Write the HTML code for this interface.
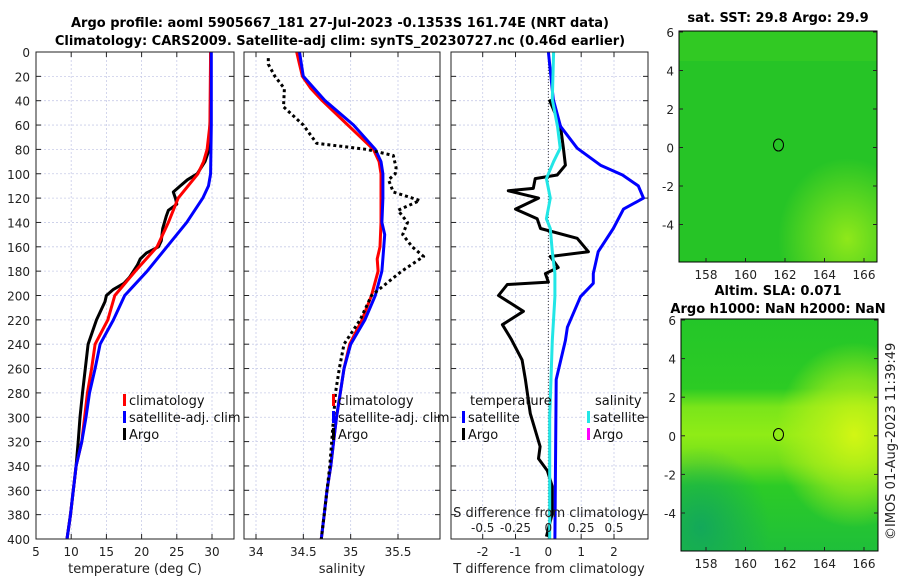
<!DOCTYPE html>
<html><head><meta charset="utf-8"><style>
body{margin:0;background:#fff;}
svg{display:block;font-family:"DejaVu Sans","Liberation Sans",sans-serif;}
.t{font-size:13px;fill:#222;}
.b{font-size:13px;font-weight:bold;fill:#000;}
.tk{font-size:12px;fill:#222;}
.lg{font-size:13px;fill:#111;}
</style></head><body>
<svg id="fig" width="900" height="580" viewBox="0 0 900 580" xmlns="http://www.w3.org/2000/svg">
<defs>
<radialGradient id="g1" cx="0.85" cy="0.9" r="0.35"><stop offset="0" stop-color="#8fe81a"/><stop offset="1" stop-color="#8fe81a" stop-opacity="0"/></radialGradient>
<linearGradient id="band" x1="0" y1="0" x2="0" y2="1">
<stop offset="0" stop-color="#24c629"/><stop offset="0.3" stop-color="#2ccb24"/><stop offset="0.38" stop-color="#7ae51a"/><stop offset="0.5" stop-color="#8fec16"/><stop offset="0.62" stop-color="#6edd1c"/><stop offset="0.72" stop-color="#2ccb26"/><stop offset="1" stop-color="#1fbf3a"/></linearGradient>
<radialGradient id="g2" cx="0.88" cy="0.5" r="0.4"><stop offset="0" stop-color="#d2f614"/><stop offset="0.6" stop-color="#b6f018" stop-opacity="0.6"/><stop offset="1" stop-color="#b6f018" stop-opacity="0"/></radialGradient>
<radialGradient id="g3" cx="0.1" cy="0.9" r="0.35"><stop offset="0" stop-color="#13a85a"/><stop offset="1" stop-color="#13a85a" stop-opacity="0"/></radialGradient>
</defs>
<g id="titles">
<text class="b" x="340" y="27" text-anchor="middle">Argo profile: aoml 5905667_181 27-Jul-2023 -0.1353S 161.74E (NRT data)</text>
<text class="b" x="340" y="45" text-anchor="middle">Climatology: CARS2009. Satellite-adj clim: synTS_20230727.nc (0.46d earlier)</text>
<text class="b" x="778" y="22" text-anchor="middle">sat. SST: 29.8 Argo: 29.9</text>
<text class="b" x="778" y="295" text-anchor="middle">Altim. SLA: 0.071</text>
<text class="b" x="778" y="313" text-anchor="middle">Argo h1000: NaN h2000: NaN</text>
<text class="t" transform="translate(895,540) rotate(-90)" x="0" y="0">©IMOS 01-Aug-2023 11:39:49</text>
</g>
<g id="maps">
<rect x="679" y="31" width="198" height="231" fill="#26c426"/>
<rect x="679" y="31" width="198" height="231" fill="url(#g1)"/>
<rect x="679" y="31" width="198" height="30" fill="#4dd41f" opacity="0.3"/>
<ellipse cx="778.5" cy="145" rx="5" ry="6" fill="none" stroke="#000"/>
<rect x="679" y="31" width="198" height="231" fill="none" stroke="#000"/>
<rect x="681" y="319" width="197" height="232" fill="url(#band)"/>
<rect x="681" y="319" width="197" height="232" fill="url(#g2)"/>
<rect x="681" y="319" width="197" height="232" fill="url(#g3)"/>
<ellipse cx="778.5" cy="434.5" rx="5" ry="6" fill="none" stroke="#000"/>
<rect x="681" y="319" width="197" height="232" fill="none" stroke="#000"/>
</g>
<g id="plots"></g>
</svg>
<script>
const depthTicks=[0,20,40,60,80,100,120,140,160,180,200,220,240,260,280,300,320,340,360,380,400];
const tempTicks=[5,10,15,20,25,30];
const salTicks=[34,34.5,35,35.5];
const salTickLabels=["34","34.5","35","35.5"];
const tdTicks=[-2,-1,0,1,2];
const sdTicks=[-0.5,-0.25,0,0.25,0.5];
const sdTickLabels=["-0.5","-0.25","0","0.25","0.5"];
const latTicks=[-4,-2,0,2,4,6];
const lonTicks=[158,160,162,164,166];

const climTD=[0,60,80,90,100,120,140,160,180,200,220,240,260,280,300,320,340,360,380,400];
const climT=[29.8,29.7,29.3,28.8,28,25.2,23.8,22.2,19.1,16.2,15.2,13.4,12.9,12.3,11.9,11.5,10.7,10.3,9.9,9.4];
const satTD=[0,60,100,110,120,140,160,180,200,220,240,260,280,300,320,340,360,380,400];
const satT=[29.9,29.9,29.8,29.5,28.7,26.4,23.6,20.8,17.6,16.0,14.1,13.4,12.6,12.1,11.5,10.7,10.3,9.9,9.4];
const argoTD=[0,40,80,90,100,105,110,115,120,125,130,135,145,155,160,165,170,175,185,190,195,200,205,220,240,260,280,300,320,340,360,380,400];
const argoT=[29.8,29.8,29.6,29,27.9,26.5,25.5,24.5,24.8,25,23.8,23.5,23,22.8,22.4,20.7,19.8,19.4,18.3,17.5,16,15,14.8,13.6,12.4,12.0,11.6,11.25,11.0,10.7,10.3,9.9,9.4];

const climSD=[0,10,20,30,40,60,80,90,100,120,140,160,170,180,200,220,240,260,280,300,320,340,360,380,400];
const climS=[34.43,34.46,34.49,34.58,34.7,34.97,35.24,35.3,35.32,35.32,35.32,35.31,35.28,35.29,35.22,35.12,34.99,34.93,34.89,34.85,34.82,34.79,34.75,34.72,34.69];
const satSD=[0,10,20,40,60,80,90,100,120,140,150,160,180,200,220,240,260,280,300,320,340,360,380,400];
const satS=[34.46,34.48,34.5,34.73,35.03,35.26,35.32,35.34,35.34,35.33,35.36,35.35,35.33,35.26,35.15,35.0,34.93,34.89,34.85,34.82,34.79,34.75,34.72,34.69];
const argoSD=[5,10,20,30,45,60,75,80,85,95,100,105,115,122,130,140,150,160,168,180,190,200,220,240,260,280,300,320,340,360,380,400];
const argoS=[34.13,34.13,34.2,34.3,34.29,34.5,34.64,35.17,35.45,35.48,35.47,35.4,35.45,35.73,35.5,35.6,35.55,35.65,35.77,35.54,35.38,35.22,35.1,34.93,34.88,34.84,34.82,34.8,34.78,34.75,34.72,34.69];

const tdD=[39,61,79,93,101,104,112,114,120,129,137,145,153,164,168,177,182,189,191,200,213,224,236,253,269,297,324,334,344,357,379,398];
const tdArgo=[0.03,0.37,0.46,0.52,0.27,-0.4,-0.46,-1.22,-0.3,-1.0,-0.34,-0.24,0.88,1.22,0.06,0.3,-0.09,0,-1.25,-1.52,-0.76,-1.4,-1.13,-0.8,-0.7,-0.55,-0.25,-0.3,-0.03,0.12,0.12,-0.06];
const tdSatD=[0,39,61,79,93,101,110,120,129,145,164,182,190,201,226,237,269,400];
const tdSat=[0,0.15,0.37,0.88,1.59,2.26,2.74,2.9,2.29,1.98,1.52,1.37,1.37,0.98,0.58,0.52,0.24,0.2];
const sdD=[0,39,61,79,90,104,120,137,145,164,182,201,237,300,400];
const sdSat=[0.04,0.03,0.07,0.09,0.04,-0.015,0.015,-0.015,0.015,0.03,0.05,0.05,0.03,0.01,0.01];

const NS='http://www.w3.org/2000/svg';
const G=document.getElementById('plots');
function mk(tag,attrs,parent){const e=document.createElementNS(NS,tag);for(const k in attrs)e.setAttribute(k,attrs[k]);(parent||G).appendChild(e);return e;}
const yTop=52,yBot=539;
function yD(d){return yTop+(d/400)*(yBot-yTop);}
function lin(d0,d1,p0,p1){return v=>p0+(v-d0)/(d1-d0)*(p1-p0);}
const xT=lin(5,30,36,212);
const xS=lin(34,35.5,256,398);
const xTD=lin(-2,2,482.7,614);
const xSD=v=>xTD(v*4);
const panels=[{x0:36,x1:234,name:'temperature-panel'},{x0:244,x1:440,name:'salinity-panel'},{x0:451,x1:648,name:'difference-panel'}];

function grid(p,xs,xf){
  const g=mk('g',{});
  
  
  xs.forEach(v=>{const x=xf(v);mk('line',{x1:x,x2:x,y1:yTop,y2:yBot,stroke:'#c8cce8','stroke-width':0.8,'stroke-dasharray':'2,2'},g);});
  depthTicks.forEach(d=>{const y=yD(d);mk('line',{x1:p.x0,x2:p.x1,y1:y,y2:y,stroke:'#c8cce8','stroke-width':0.8,'stroke-dasharray':'2,2'},g);
    mk('line',{x1:p.x0,x2:p.x0+5,y1:y,y2:y,stroke:'#222'},g);mk('line',{x1:p.x1-5,x2:p.x1,y1:y,y2:y,stroke:'#222'},g);});
  xs.forEach(v=>{const x=xf(v);mk('line',{x1:x,x2:x,y1:yBot,y2:yBot-5,stroke:'#222'},g);mk('line',{x1:x,x2:x,y1:yTop,y2:yTop+5,stroke:'#222'},g);});
}
function frame(p){const r=mk('rect',{x:p.x0,y:yTop,width:p.x1-p.x0,height:yBot-yTop,fill:'none',stroke:'#222','stroke-width':1});
  
  }
function line(xs,ds,xf,color,name,extra){
  const pts=xs.map((v,i)=>xf(v).toFixed(1)+','+yD(ds[i]).toFixed(1)).join(' ');
  const a=Object.assign({points:pts,fill:'none',stroke:color,'stroke-width':3,'stroke-linejoin':'round'},extra||{});
  const e=mk('polyline',a);
  
  
}
function text(x,y,s,cls,anchor,name){const e=mk('text',{x:x,y:y,class:cls,'text-anchor':anchor||'middle'});e.textContent=s;
  
  
  return e;}

grid(panels[0],tempTicks,xT);
grid(panels[1],salTicks,xS);
grid(panels[2],tdTicks,xTD);
const zl=mk('line',{x1:xTD(0),x2:xTD(0),y1:yTop,y2:yBot,stroke:'#444','stroke-width':1,'stroke-dasharray':'1,2'});



line(argoT,argoTD,xT,'#000','argo-temperature-line');
line(climT,climTD,xT,'#f00','climatology-temperature-line');
line(satT,satTD,xT,'#00f','satellite-temperature-line');
line(climS,climSD,xS,'#f00','climatology-salinity-line');
line(satS,satSD,xS,'#00f','satellite-salinity-line');
line(argoS,argoSD,xS,'#000','argo-salinity-line',{'stroke-dasharray':'3,3'});
line(tdArgo,tdD,xTD,'#000','argo-temperature-difference-line');
line(tdSat,tdSatD,xTD,'#00f','satellite-temperature-difference-line');
line(sdSat,sdD,xSD,'#22e6e6','satellite-salinity-difference-line');
panels.forEach(frame);

depthTicks.forEach(d=>text(30,yD(d)+5,String(d),'tk','end','depth-tick-label'));
tempTicks.forEach(v=>text(xT(v),556,String(v),'tk','middle','temperature-tick-label'));
salTicks.forEach((v,i)=>text(xS(v),556,salTickLabels[i],'tk','middle','salinity-tick-label'));
tdTicks.forEach(v=>text(xTD(v),556,String(v),'tk','middle','t-difference-tick-label'));
sdTicks.forEach((v,i)=>text(xSD(v),532,sdTickLabels[i],'tk','middle','s-difference-tick-label'));
text(135,573,'temperature (deg C)','t','middle','temperature-axis-title');
text(342,573,'salinity','t','middle','salinity-axis-title');
text(549,573,'T difference from climatology','t','middle','t-difference-axis-title');
text(549,517,'S difference from climatology','t','middle','s-difference-axis-title');

function leg(x,y,color,label,name){const r=mk('rect',{x:x,y:y-11,width:3,height:12,fill:color});
  
  
  text(x+6,y,label,'lg','start',name);}
leg(123,405,'#f00','climatology','temp-legend-climatology');
leg(123,422,'#00f','satellite-adj. clim','temp-legend-satellite');
leg(123,439,'#000','Argo','temp-legend-argo');
leg(332,405,'#f00','climatology','sal-legend-climatology');
leg(332,422,'#00f','satellite-adj. clim','sal-legend-satellite');
leg(332,439,'#000','Argo','sal-legend-argo');
text(470,405,'temperature','lg','start','diff-legend-temperature-heading');
text(595,405,'salinity','lg','start','diff-legend-salinity-heading');
leg(462,422,'#00f','satellite','diff-legend-t-satellite');
leg(462,439,'#000','Argo','diff-legend-t-argo');
leg(587,422,'#22e6e6','satellite','diff-legend-s-satellite');
leg(587,439,'#f0f','Argo','diff-legend-s-argo');

const lonX=lin(158,166,706,864);
const lat1=lin(6,-4,32,224.5);
const lat2=lin(6,-4,320,513);
function mapAxes(top,bot,x0,x1,latf,name){
  latTicks.forEach(v=>{const y=latf(v);mk('line',{x1:x0,x2:x0+4,y1:y,y2:y,stroke:'#222'});mk('line',{x1:x1-4,x2:x1,y1:y,y2:y,stroke:'#222'});
    text(x0-5,y+5,String(v),'tk','end',name+'-lat-tick-label');});
  lonTicks.forEach(v=>{const x=lonX(v);mk('line',{x1:x,x2:x,y1:bot,y2:bot-4,stroke:'#222'});
    text(x,bot+17,String(v),'tk','middle',name+'-lon-tick-label');});
}
mapAxes(31,262,679,877,lat1,'sst-map');
mapAxes(319,551,681,878,lat2,'sla-map');
</script>
</body></html>
